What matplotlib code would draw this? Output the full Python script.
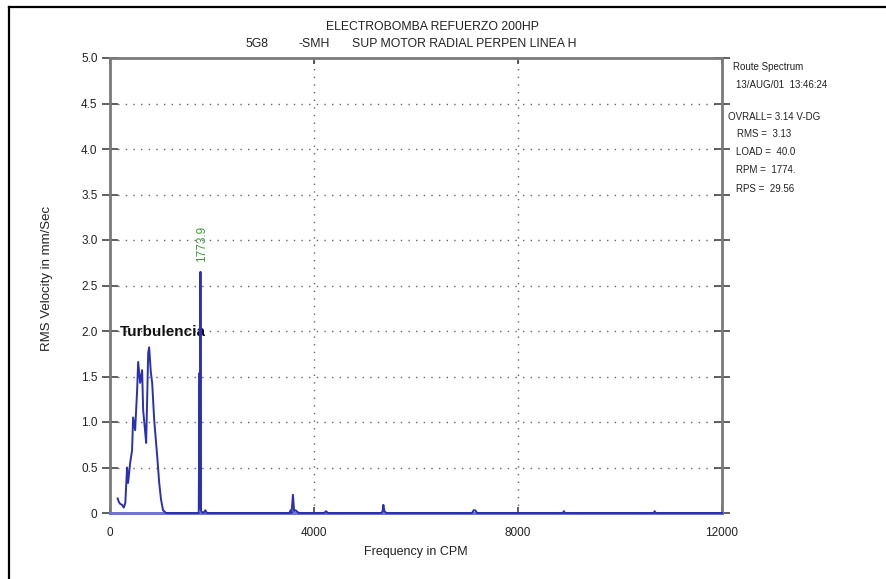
import matplotlib
matplotlib.use("Agg")
import matplotlib.pyplot as plt
from matplotlib.lines import Line2D

# ---- data ----
freq_cpm = [150, 175, 200, 236, 270, 300, 335, 355, 395, 433, 453, 493, 532, 552,
            591, 630, 650, 680, 709, 749, 768, 800, 827, 867, 926, 965, 1000, 1040,
            1100, 1400, 1740, 1755, 1765, 1774, 1785, 1830, 1870, 1900, 2500, 3000,
            3520, 3540, 3560, 3587, 3610, 3640, 3700, 4200, 4236, 4270, 5000, 5320,
            5345, 5360, 5380, 5420, 7100, 7130, 7160, 7200, 8880, 8900, 8920,
            10660, 10680, 10700, 12000]
amp_rms = [0.16, 0.12, 0.10, 0.09, 0.06, 0.11, 0.50, 0.33, 0.55, 0.69, 1.05, 0.91,
           1.35, 1.66, 1.43, 1.57, 1.13, 0.95, 0.77, 1.76, 1.82, 1.55, 1.43, 1.02,
           0.62, 0.33, 0.15, 0.03, 0.0, 0.0, 0.0, 1.54, 0.05, 2.65, 0.02, 0.0,
           0.03, 0.0, 0.0, 0.0, 0.0, 0.03, 0.0, 0.20, 0.02, 0.03, 0.0, 0.0, 0.02,
           0.0, 0.0, 0.0, 0.02, 0.09, 0.02, 0.0, 0.0, 0.03, 0.03, 0.0, 0.0, 0.02,
           0.0, 0.0, 0.02, 0.0, 0.0]

x_ticks = [0, 4000, 8000, 12000]
x_tick_labels = ["0", "4000", "8000", "12000"]
y_ticks = [0, 0.5, 1.0, 1.5, 2.0, 2.5, 3.0, 3.5, 4.0, 4.5, 5.0]
y_tick_labels = ["0", "0.5", "1.0", "1.5", "2.0", "2.5", "3.0", "3.5", "4.0", "4.5", "5.0"]

peak_freq = 1773.9
peak_label = "1773.9"

title1 = "ELECTROBOMBA REFUERZO 200HP"
title2_parts = ["5G8", "-SMH", "SUP MOTOR RADIAL PERPEN LINEA H"]
info_lines = ["Route Spectrum", "13/AUG/01  13:46:24",
              "OVRALL= 3.14 V-DG", "RMS =  3.13", "LOAD =  40.0",
              "RPM =  1774.", "RPS =  29.56"]

# ---- figure ----
W, H = 886, 579
plt.rcParams['font.family'] = ['Liberation Sans', 'DejaVu Sans']
fig = plt.figure(figsize=(W / 100, H / 100), dpi=100)

def fx(px):
    return px / W

def fy(py):
    return 1 - py / H

ax = fig.add_axes([fx(110), fy(513), fx(722) - fx(110), fy(58) - fy(513)])
ax.set_xlim(0, 12000)
ax.set_ylim(0, 5.0)

spine_c = "#7a7a7a"
for s in ax.spines.values():
    s.set_color(spine_c)
    s.set_linewidth(2.0)

txt_c = '#222222'
ax.set_yticks(y_ticks)
ax.set_yticklabels(y_tick_labels)
ax.set_xticks(x_ticks)
ax.set_xticklabels(x_tick_labels)
ax.tick_params(axis='y', which='both', direction='inout', length=12, width=1.2,
               color='#444444', left=True, right=True, labelsize=8.5, pad=3,
               labelcolor=txt_c)
ax.tick_params(axis='x', which='both', direction='in', length=4, width=1.2,
               color='#444444', bottom=True, top=True, labelsize=8.5, pad=10,
               labelcolor=txt_c)

for yv in y_ticks[1:-1]:
    ax.axhline(yv, color='#666666', linestyle=(0, (1.0, 4.5)), linewidth=1.0, zorder=1)
for xv in x_ticks[1:-1]:
    ax.axvline(xv, color='#666666', linestyle=(0, (1.0, 4.5)), linewidth=1.0, zorder=1)

ax.axhline(0, color='#6f73d8', linewidth=2.0, zorder=3, clip_on=False)
ax.plot(freq_cpm, amp_rms, color='#2b30b0', linewidth=1.4, zorder=4, clip_on=False)

ax.text(peak_freq + 40, 2.76, peak_label, rotation=90, color='#3a9a3a', fontsize=8.5,
        ha='center', va='bottom')
ax.text(1040, 1.99, "Turbulencia", fontsize=11, fontweight='bold', color='#111111',
        ha='center', va='center')

fig.text(fx(416), fy(552), "Frequency in CPM", fontsize=9, ha='center', va='center',
         color=txt_c)
fig.text(fx(47), fy(278), "RMS Velocity in mm/Sec", fontsize=9.5, rotation=90,
         ha='center', va='center', color=txt_c)

# titles
fs_t = 8.8
fig.text(fx(432), fy(27), title1, fontsize=fs_t, ha='center', va='center', color=txt_c)
fig.text(fx(257), fy(44), title2_parts[0], fontsize=fs_t, ha='center', va='center', color=txt_c)
fig.text(fx(314), fy(44), title2_parts[1], fontsize=fs_t, ha='center', va='center', color=txt_c)
fig.text(fx(464), fy(44), title2_parts[2], fontsize=fs_t, ha='center', va='center', color=txt_c)

# info block
info_pos = [(733, 67), (736, 85), (728, 117), (737, 134), (736, 152), (736, 170), (736, 189)]
for txt, (px, py) in zip(info_lines, info_pos):
    fig.text(fx(px), fy(py), txt, fontsize=7.0, ha='left', va='center', color=txt_c)

# outer border (partial frame)
fig.add_artist(Line2D([fx(9), fx(9)], [fy(7), 0], transform=fig.transFigure,
                      color='black', linewidth=1.6))
fig.add_artist(Line2D([fx(9), 1], [fy(7), fy(7)], transform=fig.transFigure,
                      color='black', linewidth=1.6))

fig.savefig("out.png", dpi=100)
